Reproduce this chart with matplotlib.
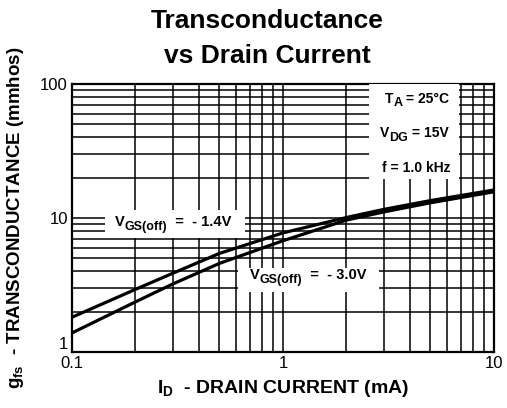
import matplotlib.pyplot as plt
from matplotlib.ticker import LogLocator, NullFormatter, FixedLocator, FixedFormatter
from matplotlib.patches import Rectangle

plt.rcParams['font.family'] = ['Liberation Sans', 'DejaVu Sans']

# drain current (mA)
i_d = [0.1, 0.2, 0.3, 0.5, 1.0, 2.0, 3.0, 5.0, 10.0]
# transconductance (mmhos) for the two VGS(off) values
gfs_14 = [1.82, 2.94, 3.87, 5.45, 7.75, 10.1, 11.6, 13.5, 16.2]
gfs_30 = [1.39, 2.37, 3.22, 4.59, 6.77, 9.66, 11.1, 13.0, 15.7]

x_ticks = [0.1, 1, 10]
x_labels = ['0.1', '1', '10']
y_ticks = [1, 10, 100]
y_labels = ['1', '10', '100']


def sub_label(ax, x, y, parts, size, sub_size, coords, drop=3):
    # text with large subscripts, pieces chained left to right
    base = ax.annotate(parts[0][0], xy=(x, y), xycoords=coords, ha='left',
                       va='baseline', fontsize=size, fontweight='bold', zorder=6)
    prev = base
    for txt, is_sub in parts[1:]:
        prev = ax.annotate(txt, xy=(1, 0), xycoords=(prev, base),
                           xytext=(0, -drop if is_sub else 0), textcoords='offset points',
                           ha='left', va='bottom', fontsize=sub_size if is_sub else size,
                           fontweight='bold', zorder=6)
    return base


fig = plt.figure(figsize=(5.07, 4.08), dpi=100)
ax = fig.add_axes([0.142, 0.137, 0.832, 0.657])

ax.set_xscale('log')
ax.set_yscale('log')
ax.set_xlim(0.1, 10)
ax.set_ylim(1, 100)

ax.xaxis.set_major_locator(FixedLocator(x_ticks))
ax.xaxis.set_major_formatter(FixedFormatter(x_labels))
ax.yaxis.set_major_locator(FixedLocator(y_ticks))
ax.yaxis.set_major_formatter(FixedFormatter(y_labels))
ax.xaxis.set_minor_locator(LogLocator(base=10, subs=range(2, 10)))
ax.yaxis.set_minor_locator(LogLocator(base=10, subs=range(2, 10)))
ax.xaxis.set_minor_formatter(NullFormatter())
ax.yaxis.set_minor_formatter(NullFormatter())

ax.grid(True, which='both', color='black', linewidth=1.1)
ax.tick_params(which='both', length=0, labelsize=12, pad=3)
for s in ax.spines.values():
    s.set_linewidth(1.6)
# lift the bottom "1" so it clears "0.1"
ax.get_yticklabels()[0].set_verticalalignment('bottom')

ax.plot(i_d, gfs_14, color='black', linewidth=2.3, zorder=3)
ax.plot(i_d, gfs_30, color='black', linewidth=2.3, zorder=3)

# conditions box
ax.add_patch(Rectangle((0.705, 0.647), 0.213, 0.353, transform=ax.transAxes,
                       facecolor='white', edgecolor='none', zorder=4))
sub_label(ax, 0.742, 0.93, [('T', 0), ('A', 1), (' = 25°C', 0)], 10, 9,
          'axes fraction', drop=2.5)
sub_label(ax, 0.73, 0.802, [('V', 0), ('DG', 1), (' = 15V', 0)], 10, 9,
          'axes fraction', drop=2.5)
sub_label(ax, 0.735, 0.672, [('f = 1.0 kHz', 0)], 10, 9, 'axes fraction')

# curve labels with white backgrounds
ax.add_patch(Rectangle((0.143, 7.1), 0.661 - 0.143, 11.5 - 7.1,
                       facecolor='white', edgecolor='none', zorder=4))
sub_label(ax, 0.16, 8.7, [('V', 0), ('GS(off)', 1), ('  =  - 1.4V', 0)], 10.5, 9,
          'data')
ax.add_patch(Rectangle((0.612, 2.8), 2.85 - 0.612, 4.24 - 2.8,
                       facecolor='white', edgecolor='none', zorder=4))
sub_label(ax, 0.698, 3.5, [('V', 0), ('GS(off)', 1), ('  =  - 3.0V', 0)], 10.5, 9,
          'data')

ax.set_xlabel(r'$\mathregular{I_D}$  - DRAIN CURRENT (mA)', fontsize=14,
              fontweight='bold', labelpad=5)
ax.set_ylabel(r'$\mathregular{g_{fs}}$  - TRANSCONDUCTANCE (mmhos)', fontsize=13.5,
              fontweight='bold', labelpad=10)
fig.text(0.527, 0.931, 'Transconductance', ha='center', va='baseline',
         fontsize=19, fontweight='bold')
fig.text(0.527, 0.846, 'vs Drain Current', ha='center', va='baseline',
         fontsize=19, fontweight='bold')

fig.savefig('out.png', dpi=100)
